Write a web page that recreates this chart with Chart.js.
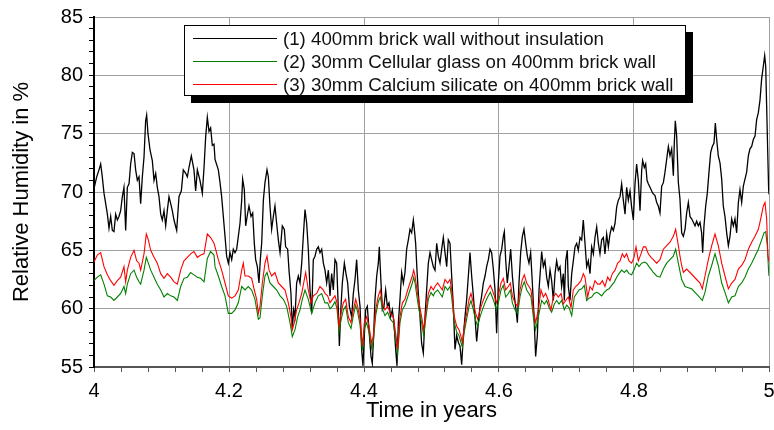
<!DOCTYPE html>
<html>
<head>
<meta charset="utf-8">
<script src="https://cdn.jsdelivr.net/npm/chart.js@4.4.1/dist/chart.umd.min.js"></script>
<style>
  html, body { margin: 0; padding: 0; background: #ffffff; }
  #wrap { width: 774px; height: 430px; }
</style>
</head>
<body>
<div id="wrap"><canvas id="c" width="774" height="430"></canvas></div>
<script>
// ---------- DATA (time in years, relative humidity in %) ----------
const seriesLabels = [
  '(1) 400mm brick wall without insulation',
  '(2) 30mm Cellular glass on 400mm brick wall',
  '(3) 30mm Calcium silicate on 400mm brick wall'
];

const brickOnly = [
  [4.0000,70.3],[4.0040,71.3],[4.0074,71.9],[4.0099,72.4],[4.0123,71.3],[4.0148,69.9],[4.0173,69.0],[4.0198,68.1],
  [4.0222,66.9],[4.0247,67.9],[4.0272,66.7],[4.0296,66.6],[4.0321,68.1],[4.0346,67.6],[4.0370,67.9],[4.0395,68.4],
  [4.0420,69.6],[4.0444,70.4],[4.0469,66.7],[4.0494,70.4],[4.0519,70.7],[4.0543,72.4],[4.0568,73.4],[4.0593,73.3],
  [4.0617,71.9],[4.0642,71.0],[4.0667,71.3],[4.0691,69.0],[4.0716,71.3],[4.0741,73.0],[4.0765,76.1],[4.0780,76.6],
  [4.0800,75.0],[4.0830,73.6],[4.0864,72.7],[4.0889,71.0],[4.0914,71.6],[4.0938,70.4],[4.0963,69.6],[4.0988,68.1],
  [4.1012,67.6],[4.1037,68.4],[4.1062,67.1],[4.1086,68.4],[4.1111,69.6],[4.1136,69.0],[4.1160,68.4],[4.1185,67.6],
  [4.1225,66.7],[4.1259,69.6],[4.1294,70.1],[4.1323,71.9],[4.1358,71.6],[4.1383,71.3],[4.1407,72.1],[4.1442,73.1],
  [4.1481,71.9],[4.1506,70.1],[4.1531,71.9],[4.1570,71.0],[4.1605,69.9],[4.1630,72.1],[4.1654,74.7],[4.1679,76.4],
  [4.1704,75.2],[4.1728,75.5],[4.1753,74.0],[4.1778,74.1],
  [4.1793,72.8],[4.1842,71.9],[4.1867,70.8],[4.1891,69.6],[4.1916,67.9],[4.1941,66.2],[4.1965,64.5],[4.1990,63.9],
  [4.2015,64.8],[4.2040,64.2],[4.2064,65.1],[4.2089,64.8],[4.2114,65.1],[4.2138,66.2],[4.2163,67.3],[4.2188,69.3],
  [4.2202,71.1],[4.2227,70.2],[4.2247,67.1],[4.2277,68.2],[4.2296,68.8],[4.2326,67.9],[4.2351,68.2],[4.2375,65.6],
  [4.2395,64.2],[4.2420,63.6],[4.2444,62.2],[4.2464,64.2],[4.2484,65.6],[4.2509,69.3],[4.2533,70.8],[4.2563,71.9],
  [4.2583,71.3],[4.2607,68.8],[4.2632,66.8],[4.2657,67.9],[4.2681,68.8],[4.2706,67.3],[4.2731,65.9],[4.2756,64.8],
  [4.2790,67.1],[4.2820,66.8],[4.2839,65.3],[4.2869,65.1],[4.2889,63.3],[4.2918,61.3],[4.2938,58.2],[4.2958,59.9],
  [4.2978,59.3],[4.3002,62.2],[4.3027,62.8],[4.3052,62.2],[4.3077,63.9],[4.3101,66.2],[4.3126,68.5],[4.3151,67.3],
  [4.3175,65.1],[4.3200,61.6],[4.3225,59.6],[4.3249,64.2],[4.3274,64.5],[4.3299,65.1],[4.3323,65.3],[4.3348,64.8],
  [4.3373,65.1],[4.3398,63.9],[4.3422,63.3],
  [4.3447,62.2],[4.3472,63.3],[4.3496,61.1],[4.3521,63.0],[4.3546,61.6],[4.3570,64.2],[4.3595,63.9],[4.3620,59.9],
  [4.3635,56.8],[4.3659,60.2],[4.3679,62.2],[4.3709,63.9],[4.3733,63.0],[4.3758,62.2],[4.3783,60.2],[4.3817,59.3],
  [4.3842,61.3],[4.3867,62.5],[4.3891,64.2],[4.3916,61.6],[4.3941,60.2],[4.3965,56.5],[4.3985,55.1],[4.4005,57.7],
  [4.4025,59.9],[4.4049,60.2],[4.4074,58.2],[4.4104,55.9],[4.4123,55.3],[4.4143,57.7],[4.4163,60.8],[4.4188,62.8],
  [4.4212,63.9],[4.4227,65.3],[4.4247,62.8],[4.4272,59.9],[4.4296,60.2],[4.4321,61.6],[4.4346,60.2],[4.4370,60.5],
  [4.4395,59.3],[4.4420,59.9],[4.4444,58.8],[4.4469,56.5],[4.4489,55.1],[4.4509,58.8],[4.4533,60.8],[4.4558,63.1],
  [4.4583,62.2],[4.4607,63.1],[4.4632,65.1],[4.4657,65.9],[4.4681,66.8],[4.4706,66.5],[4.4731,67.6],[4.4746,66.8],
  [4.4765,65.6],[4.4785,63.3],[4.4805,61.3],[4.4830,59.3],[4.4854,57.0],[4.4879,56.2],[4.4904,59.3],[4.4928,61.6],
  [4.4953,63.9],[4.4978,64.8],[4.5002,64.2],[4.5027,63.6],[4.5052,63.3],
  [4.5077,65.6],[4.5101,64.5],[4.5126,63.9],[4.5151,65.1],[4.5175,66.1],[4.5200,64.8],[4.5225,63.6],[4.5249,65.9],
  [4.5274,65.6],[4.5299,62.8],[4.5323,60.2],[4.5348,56.5],[4.5373,57.7],[4.5398,57.1],[4.5422,56.8],[4.5447,55.2],
  [4.5472,57.7],[4.5496,59.3],[4.5521,60.8],[4.5546,62.8],[4.5570,64.8],[4.5595,62.8],[4.5620,61.1],[4.5644,59.3],
  [4.5669,57.2],[4.5694,58.8],[4.5719,60.2],[4.5743,61.1],[4.5768,62.2],[4.5793,62.8],[4.5817,63.6],[4.5842,64.2],
  [4.5867,65.1],[4.5891,64.8],[4.5916,63.4],[4.5941,61.6],[4.5965,57.9],[4.5990,62.2],[4.6015,64.5],[4.6040,65.1],
  [4.6064,66.2],[4.6079,66.6],[4.6099,64.2],[4.6123,62.2],[4.6148,63.6],[4.6173,65.1],[4.6198,62.8],[4.6222,61.3],
  [4.6247,60.2],[4.6272,58.8],[4.6296,62.2],[4.6321,64.8],[4.6346,66.2],[4.6370,66.8],[4.6395,65.6],[4.6420,64.5],
  [4.6444,63.9],[4.6469,64.8],[4.6494,62.2],[4.6519,59.3],[4.6543,55.9],[4.6568,57.7],[4.6593,61.6],
  [4.6632,64.9],[4.6657,63.6],[4.6681,64.1],[4.6706,62.7],[4.6731,61.9],[4.6756,63.3],[4.6780,62.4],[4.6805,60.7],
  [4.6830,63.0],[4.6854,64.1],[4.6879,63.3],[4.6904,63.6],[4.6928,61.9],[4.6953,63.0],[4.6968,60.7],[4.6988,64.1],
  [4.7012,65.0],[4.7027,61.9],[4.7052,60.7],[4.7077,63.0],[4.7101,64.1],[4.7126,65.3],[4.7151,65.6],[4.7175,65.0],
  [4.7200,66.1],[4.7225,65.9],[4.7249,67.6],[4.7274,65.6],[4.7299,63.6],[4.7323,64.1],[4.7348,63.0],[4.7373,65.3],
  [4.7398,64.7],[4.7422,66.1],[4.7447,67.0],[4.7472,65.6],[4.7496,64.7],[4.7521,65.9],[4.7546,66.1],[4.7570,64.7],
  [4.7595,66.4],[4.7620,65.3],[4.7644,66.4],[4.7669,67.0],[4.7694,66.7],[4.7719,67.3],[4.7743,68.7],[4.7768,69.3],
  [4.7793,69.6],[4.7817,70.7],[4.7842,69.3],[4.7867,68.1],[4.7891,70.4],[4.7916,69.3],[4.7941,70.1],[4.7965,68.7],
  [4.7990,67.6],[4.8015,70.7],[4.8039,72.4],[4.8064,71.0],[4.8089,68.4],[4.8114,71.9],[4.8128,72.7],[4.8153,72.1],
  [4.8173,72.4],[4.8193,71.0],[4.8212,70.7],[4.8237,70.4],
  [4.8277,69.9],[4.8311,69.7],[4.8336,69.1],[4.8360,68.8],[4.8385,68.2],[4.8410,70.5],[4.8435,70.8],[4.8459,71.7],
  [4.8484,72.8],[4.8509,73.9],[4.8533,73.1],[4.8558,73.7],[4.8583,71.4],[4.8597,74.2],[4.8612,76.1],[4.8632,74.8],
  [4.8657,70.8],[4.8681,69.4],[4.8706,66.5],[4.8731,66.2],[4.8756,66.8],[4.8780,68.2],[4.8805,69.1],[4.8830,67.9],
  [4.8854,67.7],[4.8879,67.4],[4.8904,67.1],[4.8928,67.5],[4.8953,67.1],[4.8978,67.4],[4.9002,66.5],[4.9017,64.8],
  [4.9037,67.1],[4.9062,68.8],[4.9086,69.9],[4.9111,71.7],[4.9136,73.4],[4.9160,73.9],[4.9185,74.2],[4.9205,75.9],
  [4.9225,74.5],[4.9249,73.1],[4.9274,72.5],[4.9299,71.1],[4.9323,68.8],[4.9348,67.9],[4.9373,66.5],[4.9398,65.4],
  [4.9422,66.2],[4.9447,67.7],[4.9472,67.1],[4.9496,67.7],[4.9521,66.5],[4.9546,69.1],[4.9570,70.2],[4.9595,69.1],
  [4.9620,70.5],[4.9644,71.1],[4.9669,71.7],[4.9694,73.1],[4.9718,73.7],[4.9743,73.9],[4.9768,74.5],[4.9793,74.8],
  [4.9817,76.2],[4.9842,76.8],[4.9867,77.9],[4.9891,79.7],[4.9916,80.8],[4.9936,81.7],[4.9951,80.8],[4.9965,77.4],
  [4.9980,73.7],[4.9995,70.2],[5.0000,69.8]
];

const cellularGlass = [
  [4.0000,62.4],[4.0049,62.7],[4.0099,62.9],[4.0148,62.1],[4.0198,61.1],[4.0247,61.0],[4.0296,60.7],[4.0346,61.0],
  [4.0395,61.3],[4.0444,61.9],[4.0469,61.3],[4.0494,62.1],[4.0543,63.0],[4.0593,63.3],[4.0632,62.7],[4.0667,62.3],
  [4.0691,62.1],[4.0741,63.3],[4.0775,64.4],[4.0805,63.9],[4.0840,63.3],[4.0889,62.7],[4.0938,62.1],[4.0988,61.6],
  [4.1037,61.0],[4.1086,61.3],[4.1136,61.1],[4.1185,61.0],[4.1235,60.7],[4.1284,61.9],[4.1333,62.6],[4.1383,62.7],
  [4.1432,63.1],[4.1481,62.9],[4.1531,62.7],[4.1580,62.6],[4.1630,62.3],[4.1679,64.3],[4.1728,64.9],[4.1778,64.6],
  [4.1793,63.6],[4.1842,62.8],[4.1891,61.9],[4.1941,61.1],[4.1990,59.6],[4.2040,59.6],[4.2089,59.9],[4.2138,60.5],
  [4.2188,61.9],[4.2237,61.6],[4.2286,61.9],[4.2336,61.6],[4.2385,60.8],[4.2435,59.1],[4.2459,59.2],[4.2494,61.1],
  [4.2533,62.8],[4.2563,63.1],[4.2607,62.2],[4.2657,61.9],[4.2706,61.6],[4.2756,61.1],[4.2805,60.8],[4.2854,60.2],
  [4.2904,58.8],[4.2938,57.6],[4.2978,58.2],[4.3017,59.3],[4.3052,59.9],[4.3086,60.8],[4.3126,61.6],[4.3175,60.8],
  [4.3225,59.6],[4.3274,60.5],[4.3323,61.1],[4.3373,61.3],[4.3422,60.5],
  [4.3462,60.5],[4.3496,60.0],[4.3531,60.2],[4.3570,60.6],[4.3600,60.0],[4.3630,58.0],[4.3659,59.0],[4.3694,59.9],
  [4.3728,60.2],[4.3768,58.8],[4.3807,58.3],[4.3842,59.4],[4.3877,60.3],[4.3906,59.7],[4.3941,58.6],[4.3975,56.4],
  [4.4005,58.3],[4.4039,58.8],[4.4074,58.0],[4.4114,56.6],[4.4138,57.2],[4.4173,59.4],[4.4212,60.6],[4.4242,61.0],
  [4.4272,60.0],[4.4311,59.4],[4.4351,59.7],[4.4390,59.1],[4.4434,58.8],[4.4469,57.4],[4.4499,56.1],[4.4533,58.8],
  [4.4568,59.9],[4.4607,60.3],[4.4647,61.0],[4.4681,61.6],[4.4716,62.2],[4.4736,62.7],[4.4756,62.2],[4.4785,61.0],
  [4.4815,59.9],[4.4854,58.8],[4.4884,57.7],[4.4914,59.1],[4.4953,60.8],[4.4993,61.4],[4.5027,61.1],[4.5052,61.4],
  [4.5091,61.6],[4.5126,61.3],[4.5160,61.0],[4.5200,61.9],[4.5240,61.6],[4.5274,61.9],[4.5299,61.0],[4.5338,58.8],
  [4.5373,58.0],[4.5407,57.7],[4.5437,57.1],[4.5457,56.7],[4.5486,58.0],[4.5521,59.1],[4.5556,60.2],[4.5585,60.7],
  [4.5620,59.9],[4.5654,59.0],[4.5684,58.5],[4.5719,59.3],[4.5753,59.9],[4.5793,60.5],[4.5832,61.0],[4.5872,61.4],
  [4.5901,61.0],[4.5931,60.5],[4.5960,59.9],[4.5990,60.5],[4.6030,61.6],[4.6064,62.0],[4.6099,61.0],[4.6138,61.3],
  [4.6168,61.6],[4.6198,60.5],[4.6237,59.9],[4.6277,59.6],[4.6311,61.0],[4.6346,61.9],[4.6375,62.3],[4.6410,61.6],
  [4.6444,61.3],[4.6474,61.0],[4.6509,59.3],[4.6543,58.2],[4.6583,59.3],
  [4.6632,60.7],[4.6672,60.4],[4.6706,60.7],[4.6741,60.1],[4.6780,59.7],[4.6820,60.4],[4.6854,60.7],[4.6889,60.4],
  [4.6928,60.7],[4.6968,59.9],[4.7002,60.3],[4.7037,60.1],[4.7077,59.4],[4.7116,61.0],[4.7151,61.3],[4.7185,61.6],
  [4.7225,61.7],[4.7264,62.0],[4.7299,60.7],[4.7333,60.9],[4.7373,61.0],[4.7412,61.3],[4.7447,61.4],[4.7481,61.3],
  [4.7521,61.1],[4.7560,61.4],[4.7595,61.6],[4.7630,61.7],[4.7669,62.0],[4.7709,62.3],[4.7743,62.7],[4.7778,63.0],
  [4.7817,63.3],[4.7857,63.1],[4.7891,63.3],[4.7926,63.0],[4.7965,62.9],[4.8005,63.4],[4.8039,63.9],[4.8074,63.6],
  [4.8114,63.9],[4.8153,64.0],[4.8188,63.9],[4.8222,63.6],[4.8262,63.3],
  [4.8286,63.1],[4.8336,62.8],[4.8385,62.7],[4.8435,63.4],[4.8484,63.9],[4.8533,64.2],[4.8583,64.5],[4.8617,65.1],
  [4.8657,63.9],[4.8706,62.5],[4.8756,61.9],[4.8805,61.8],[4.8854,61.7],[4.8904,61.4],[4.8953,61.1],[4.9012,60.7],
  [4.9052,61.4],[4.9101,62.8],[4.9151,63.7],[4.9200,64.7],[4.9249,63.7],[4.9299,62.2],[4.9348,61.4],[4.9398,60.5],
  [4.9447,61.0],[4.9496,61.1],[4.9546,61.9],[4.9595,62.2],[4.9644,62.7],[4.9694,63.4],[4.9743,63.9],[4.9793,64.5],
  [4.9842,65.1],[4.9891,65.9],[4.9926,66.5],[4.9951,66.6],[4.9975,65.4],[4.9995,63.1],[5.0000,62.8]
];

const calciumSilicate = [
  [4.0000,64.0],[4.0049,64.6],[4.0099,64.8],[4.0148,63.6],[4.0198,62.9],[4.0247,62.4],[4.0296,62.0],[4.0346,62.4],
  [4.0395,62.7],[4.0444,63.6],[4.0469,62.3],[4.0494,63.3],[4.0543,64.4],[4.0593,65.0],[4.0632,64.1],[4.0667,63.9],
  [4.0691,63.3],[4.0741,64.7],[4.0775,66.4],[4.0805,65.9],[4.0840,65.0],[4.0889,64.4],[4.0938,63.9],[4.0988,63.0],
  [4.1037,62.6],[4.1086,63.0],[4.1136,62.7],[4.1185,62.3],[4.1235,62.1],[4.1284,63.3],[4.1333,64.1],[4.1383,64.4],
  [4.1432,64.7],[4.1481,64.9],[4.1531,64.4],[4.1580,64.6],[4.1630,64.7],[4.1679,66.4],[4.1728,66.1],[4.1778,65.6],
  [4.1793,65.3],[4.1842,64.2],[4.1891,63.3],[4.1941,62.2],[4.1990,61.1],[4.2040,60.9],[4.2089,61.1],[4.2138,61.6],
  [4.2188,63.3],[4.2212,63.9],[4.2237,62.8],[4.2286,62.8],[4.2336,62.6],[4.2375,61.6],[4.2410,60.8],[4.2435,59.6],
  [4.2459,60.2],[4.2494,62.2],[4.2533,63.9],[4.2563,64.5],[4.2593,63.3],[4.2632,62.8],[4.2681,63.1],[4.2731,62.2],
  [4.2780,61.9],[4.2830,61.6],[4.2879,60.5],[4.2918,59.3],[4.2938,58.2],[4.2968,58.8],[4.3002,59.9],[4.3037,60.5],
  [4.3077,61.3],[4.3106,62.2],[4.3136,63.1],[4.3175,61.6],[4.3215,60.5],[4.3249,61.1],[4.3299,61.3],[4.3348,61.9],
  [4.3398,61.6],[4.3422,61.3],
  [4.3462,61.1],[4.3496,60.5],[4.3531,60.8],[4.3570,61.1],[4.3600,60.5],[4.3630,58.5],[4.3659,59.6],[4.3694,60.5],
  [4.3728,60.8],[4.3768,59.3],[4.3807,58.8],[4.3842,59.9],[4.3877,60.8],[4.3906,60.2],[4.3941,59.1],[4.3975,56.8],
  [4.4005,58.8],[4.4039,59.3],[4.4074,58.5],[4.4114,57.0],[4.4138,57.7],[4.4173,59.9],[4.4212,61.1],[4.4242,61.6],
  [4.4272,60.5],[4.4311,59.9],[4.4351,60.2],[4.4390,59.6],[4.4434,59.3],[4.4469,57.9],[4.4499,56.5],[4.4533,59.3],
  [4.4568,60.5],[4.4607,60.8],[4.4647,61.6],[4.4681,62.2],[4.4716,62.8],[4.4736,63.3],[4.4756,62.8],[4.4785,61.6],
  [4.4815,60.5],[4.4854,59.3],[4.4884,58.2],[4.4914,59.6],[4.4953,61.3],[4.4993,61.9],[4.5027,61.6],[4.5052,61.9],
  [4.5091,62.2],[4.5126,61.9],[4.5160,61.6],[4.5200,62.5],[4.5240,62.2],[4.5274,62.5],[4.5299,61.6],[4.5338,59.3],
  [4.5373,58.5],[4.5407,58.2],[4.5437,57.6],[4.5457,57.1],[4.5486,58.5],[4.5521,59.6],[4.5556,60.8],[4.5585,61.3],
  [4.5620,60.5],[4.5654,59.6],[4.5684,59.1],[4.5719,59.9],[4.5753,60.5],[4.5793,61.1],[4.5832,61.6],[4.5872,62.0],
  [4.5901,61.6],[4.5931,61.1],[4.5960,60.5],[4.5990,61.1],[4.6030,62.2],[4.6064,62.6],[4.6099,61.6],[4.6138,61.9],
  [4.6168,62.2],[4.6198,61.1],[4.6237,60.5],[4.6277,60.2],[4.6311,61.6],[4.6346,62.5],[4.6375,62.9],[4.6410,62.2],
  [4.6444,61.9],[4.6474,61.6],[4.6509,59.9],[4.6543,58.8],[4.6583,59.9],
  [4.6622,61.6],[4.6657,61.0],[4.6691,61.3],[4.6731,60.7],[4.6770,59.9],[4.6805,61.0],[4.6840,61.3],[4.6879,61.0],
  [4.6919,61.3],[4.6953,60.4],[4.6988,60.7],[4.7027,61.0],[4.7067,60.1],[4.7101,61.6],[4.7136,61.9],[4.7175,62.1],
  [4.7215,62.4],[4.7249,63.0],[4.7274,62.7],[4.7314,61.0],[4.7348,61.9],[4.7383,61.6],[4.7422,62.4],[4.7462,62.1],
  [4.7496,62.1],[4.7531,62.4],[4.7570,61.9],[4.7610,62.7],[4.7644,62.4],[4.7679,63.0],[4.7719,63.3],[4.7758,63.9],
  [4.7793,64.1],[4.7827,64.7],[4.7857,64.4],[4.7891,64.7],[4.7926,64.1],[4.7965,63.9],[4.8000,64.4],[4.8030,65.3],
  [4.8064,64.1],[4.8104,64.7],[4.8138,65.3],[4.8173,65.3],[4.8212,64.7],[4.8252,64.4],
  [4.8286,64.2],[4.8336,63.9],[4.8385,64.2],[4.8435,65.1],[4.8484,65.4],[4.8533,65.7],[4.8583,66.2],[4.8617,66.8],
  [4.8657,65.4],[4.8681,64.5],[4.8706,63.7],[4.8731,63.1],[4.8780,63.4],[4.8830,63.1],[4.8879,62.8],[4.8928,62.5],
  [4.8978,62.2],[4.9012,61.7],[4.9052,62.8],[4.9101,64.2],[4.9151,65.4],[4.9200,66.4],[4.9249,65.4],[4.9299,63.9],
  [4.9348,62.8],[4.9398,61.7],[4.9447,62.2],[4.9496,62.5],[4.9546,63.4],[4.9595,63.7],[4.9644,64.2],[4.9694,65.1],
  [4.9743,65.7],[4.9793,66.2],[4.9842,66.8],[4.9877,67.7],[4.9916,68.8],[4.9941,69.1],[4.9965,67.7],[4.9985,64.5],
  [5.0000,64.0]
];

const seriesColors = ['#000000', '#008000', '#ff0000'];
const xMajorLabels = ['4', '4.2', '4.4', '4.6', '4.8', '5'];
const yMajorLabels = ['55', '60', '65', '70', '75', '80', '85'];
const xTitle = 'Time in years';
const yTitle = 'Relative Humidity in %';

// ---------- CHART ----------
const FONT = 'Arial, "Liberation Sans", Helvetica, sans-serif';
const xMin = 4, xMax = 5, xMinorStep = 0.04;
const yMin = 55, yMax = 85, yMinorStep = 1;

function findLabel(list, v) { const l = list.find(l => Math.abs(parseFloat(l) - v) < 1e-6); return l === undefined ? '' : l; }
const toPts = arr => arr.map(p => ({ x: p[0], y: p[1] }));

const boxLegend = {
  id: 'boxLegend',
  afterDraw(chart) {
    const ctx = chart.ctx;
    const bx = 184, by = 25, bw = 502, bh = 71, sh = 7;
    ctx.save();
    ctx.fillStyle = '#000';
    ctx.fillRect(bx + sh, by + sh, bw, bh);
    ctx.fillStyle = '#fff';
    ctx.fillRect(bx, by, bw, bh);
    ctx.strokeStyle = '#000';
    ctx.lineWidth = 1;
    ctx.strokeRect(bx + 0.5, by + 0.5, bw - 1, bh - 1);
    const rows = [38.5, 61.5, 84.5];
    chart.data.datasets.slice().sort((a, b) => a.legendIndex - b.legendIndex).forEach((ds, i) => {
      ctx.strokeStyle = ds.borderColor;
      ctx.lineWidth = 1.2;
      ctx.beginPath();
      ctx.moveTo(193, rows[i]);
      ctx.lineTo(277, rows[i]);
      ctx.stroke();
      ctx.fillStyle = '#111';
      ctx.font = '18.7px ' + FONT;
      ctx.textBaseline = 'middle';
      ctx.textAlign = 'left';
      ctx.fillText(ds.label, 283, rows[i] + 1);
    });
    ctx.restore();
  }
};

new Chart(document.getElementById('c'), {
  type: 'line',
  data: {
    datasets: [
      { label: seriesLabels[2], legendIndex: 2, data: toPts(calciumSilicate), borderColor: seriesColors[2], borderWidth: 1.1, pointRadius: 0, tension: 0, order: 1 },
      { label: seriesLabels[1], legendIndex: 1, data: toPts(cellularGlass), borderColor: seriesColors[1], borderWidth: 1.1, pointRadius: 0, tension: 0, order: 2 },
      { label: seriesLabels[0], legendIndex: 0, data: toPts(brickOnly), borderColor: seriesColors[0], borderWidth: 1.3, pointRadius: 0, tension: 0, order: 3 }
    ]
  },
  options: {
    responsive: false,
    animation: false,
    events: [],
    layout: { padding: { top: 17, right: 5, left: 0, bottom: 0 } },
    plugins: { legend: { display: false }, tooltip: { enabled: false } },
    scales: {
      x: {
        type: 'linear', min: xMin, max: xMax,
        afterBuildTicks: s => {
          const t = [];
          for (let i = 0; i <= Math.round((xMax - xMin) / xMinorStep); i++) t.push({ value: +(xMin + i * xMinorStep).toFixed(4) });
          s.ticks = t;
        },
        afterFit: s => { s.height = 63; s.paddingLeft = 0; s.paddingRight = 0; },
        ticks: { autoSkip: false, maxRotation: 0, padding: 7, color: '#000', font: { size: 20, family: FONT }, callback: v => findLabel(xMajorLabels, v) },
        grid: {
          color: c => (c.tick && findLabel(xMajorLabels, c.tick.value) !== '') ? '#a0a0a0' : 'rgba(0,0,0,0)',
          tickColor: '#555', tickLength: 5, lineWidth: 1, drawTicks: true
        },
        border: { color: '#555', width: 2 },
        title: { display: true, text: xTitle, color: '#000', font: { size: 22, family: FONT }, padding: { top: 0, bottom: 6 } }
      },
      y: {
        type: 'linear', min: yMin, max: yMax,
        afterBuildTicks: s => {
          const t = [];
          for (let v = yMin; v <= yMax; v += yMinorStep) t.push({ value: v });
          s.ticks = t;
        },
        afterFit: s => { s.width = 94; s.paddingTop = 0; s.paddingBottom = 0; },
        ticks: { autoSkip: false, padding: 6, color: '#000', font: { size: 20, family: FONT }, callback: v => findLabel(yMajorLabels, v) },
        grid: {
          color: c => (c.tick && findLabel(yMajorLabels, c.tick.value) !== '') ? '#a0a0a0' : 'rgba(0,0,0,0)',
          tickColor: '#000', tickLength: 5, lineWidth: 1, drawTicks: true
        },
        border: { color: '#000', width: 2 },
        title: { display: true, text: yTitle, color: '#000', font: { size: 22, family: FONT }, padding: { top: 9, bottom: 0 } }
      }
    }
  },
  plugins: [boxLegend]
});
</script>
</body>
</html>
